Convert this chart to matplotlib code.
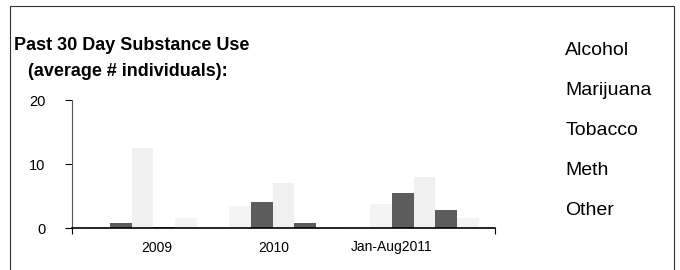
import numpy as np
import matplotlib.pyplot as plt
from matplotlib.patches import Rectangle

plt.rcParams["font.family"] = ["Liberation Sans", "DejaVu Sans"]

# data
periods = ["2009", "2010", "Jan-Aug2011"]
series = ["Alcohol", "Marijuana", "Tobacco", "Meth", "Other"]
alcohol = [0.2, 3.5, 3.8]
marijuana = [0.8, 4.0, 5.4]
tobacco = [12.5, 7.0, 8.0]
meth = [0.1, 0.8, 2.8]
other = [1.5, 0.1, 1.6]

values = [alcohol, marijuana, tobacco, meth, other]
# faded scan: light colours dropped out, dark ones stayed
colors = ["#f3f3f3", "#5c5c5c", "#f0f0f0", "#5c5c5c", "#f3f3f3"]

fig = plt.figure(figsize=(6.8, 2.7), dpi=100)
ax = fig.add_axes([72 / 680, 42 / 270, 423 / 680, 128 / 270])

x = np.arange(len(periods))
width = 0.156
for i, (name, vals) in enumerate(zip(series, values)):
    ax.bar(x + (i - 2) * width, vals, width, color=colors[i], label=name)

ax.set_xlim(-0.5, 2.5)
ax.set_ylim(0, 20)
ax.set_yticks([0, 10, 20])
ax.tick_params(axis="y", length=5, width=0.8, labelsize=10.5, pad=14)

# category labels sit left of the group centres in the original
ax.set_xticks([0.10, 0.93, 1.77])
ax.set_xticklabels(periods, fontsize=10)
ax.tick_params(axis="x", length=0, pad=9)
ax.set_xticks([-0.5, 2.5], minor=True)
ax.tick_params(axis="x", which="minor", length=4, width=0.8)

for s in ["top", "right"]:
    ax.spines[s].set_visible(False)
ax.spines["left"].set_color("#555555")
ax.spines["bottom"].set_linewidth(1.2)

fig.text(14 / 680, 1 - 46 / 270, "Past 30 Day Substance Use", fontsize=13,
         fontweight="bold", va="center", ha="left")
fig.text(128 / 680, 1 - 71 / 270, "(average # individuals):", fontsize=13,
         fontweight="bold", va="center", ha="center")

leg = ax.legend(loc="upper left", bbox_to_anchor=(540 / 680, 1 - 24 / 270),
                bbox_transform=fig.transFigure, frameon=False, fontsize=14,
                handlelength=0, handletextpad=0.4, labelspacing=1.15)
for h in leg.legend_handles:
    h.set_visible(False)

fig.add_artist(Rectangle((10 / 680, -0.1), 664 / 680, 1.1 - 6 / 270,
                         transform=fig.transFigure, fill=False,
                         edgecolor="#333333", linewidth=0.8))

fig.savefig("out.png", dpi=100)
